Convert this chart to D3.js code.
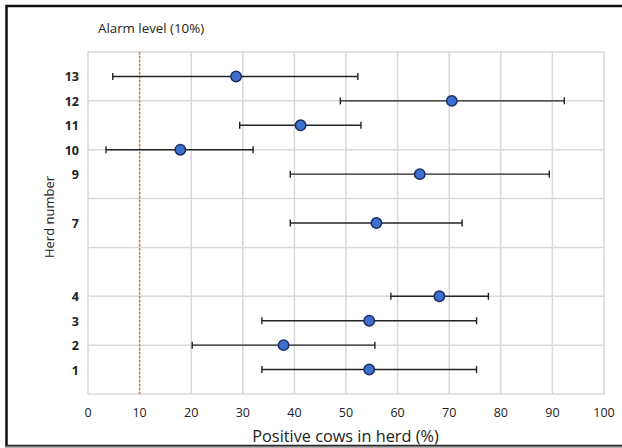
<!DOCTYPE html>
<html>
<head>
<meta charset="utf-8">
<script src="https://cdn.jsdelivr.net/npm/d3@7"></script>
<style>
  body { margin: 0; background: #fff; }
  text { font-family: "Open Sans", sans-serif; fill: #222; }
</style>
</head>
<body>
<svg id="chart"></svg>
<script>
// herd positions and estimates
var herds    = [13, 12, 11, 10, 9, 7, 4, 3, 2, 1];
var means    = [28.7, 70.5, 41.2, 17.9, 64.3, 55.9, 68.1, 54.5, 37.9, 54.5];
var lowers   = [4.8, 48.9, 29.4, 3.5, 39.2, 39.2, 58.7, 33.7, 20.2, 33.7];
var uppers   = [52.3, 92.3, 52.9, 32.0, 89.4, 72.5, 77.6, 75.3, 55.6, 75.3];
var xTicks   = [0, 10, 20, 30, 40, 50, 60, 70, 80, 90, 100];
var yGrid    = [0, 2, 4, 6, 8, 10, 12, 14];
var alarm    = 10;

var width = 622, height = 448;
var margin = {left: 88, right: 18, top: 52, bottom: 54};

var svg = d3.select("#chart").attr("width", width).attr("height", height);

// outer frame
svg.append("rect")
    .attr("x", 6.5).attr("y", 6).attr("width", 630).attr("height", 440)
    .attr("fill", "none").attr("stroke", "#111").attr("stroke-width", 2.5);
svg.append("line")
    .attr("x1", 6).attr("x2", 622).attr("y1", 446.5).attr("y2", 446.5)
    .attr("stroke", "#777").attr("stroke-width", 1.5);

var x = d3.scaleLinear().domain([0, 100]).range([margin.left, width - margin.right]);
var y = d3.scaleLinear().domain([0, 14]).range([height - margin.bottom, margin.top]);

var g = svg.append("g");

// grid
g.selectAll(".vgrid").data(xTicks).enter().append("line")
    .attr("class", "vgrid")
    .attr("x1", function(d) { return x(d); }).attr("x2", function(d) { return x(d); })
    .attr("y1", y(0)).attr("y2", y(14))
    .attr("stroke", "#d9d9d9").attr("stroke-width", 1.5);
g.selectAll(".hgrid").data(yGrid).enter().append("line")
    .attr("class", "hgrid")
    .attr("x1", x(0)).attr("x2", x(100))
    .attr("y1", function(d) { return y(d); }).attr("y2", function(d) { return y(d); })
    .attr("stroke", "#d9d9d9").attr("stroke-width", 1.5);

// x tick labels
g.selectAll(".xlab").data(xTicks).enter().append("text")
    .attr("x", function(d) { return x(d); })
    .attr("y", y(0) + 23)
    .attr("text-anchor", "middle")
    .style("font-size", "12.5px")
    .text(function(d) { return d; });

// herd labels
g.selectAll(".ylab").data(herds).enter().append("text")
    .attr("x", 79)
    .attr("y", function(d) { return y(d) + 5; })
    .attr("text-anchor", "end")
    .style("font-size", "12.5px").style("font-weight", "bold")
    .text(function(d) { return d; });

// alarm line
g.append("line")
    .attr("x1", x(alarm)).attr("x2", x(alarm))
    .attr("y1", y(14)).attr("y2", y(0))
    .attr("stroke", "#f07a2a").attr("stroke-width", 1.5)
    .attr("stroke-dasharray", "2.5,1.5");

// error bars
var rows = herds.map(function(h, i) { return {h: h, m: means[i], lo: lowers[i], hi: uppers[i]}; });
var eb = g.selectAll(".eb").data(rows).enter().append("g");
eb.append("line")
    .attr("x1", function(d) { return x(d.lo); }).attr("x2", function(d) { return x(d.hi); })
    .attr("y1", function(d) { return y(d.h); }).attr("y2", function(d) { return y(d.h); })
    .attr("stroke", "#222").attr("stroke-width", 1.4);
["lo", "hi"].forEach(function(k) {
  eb.append("line")
      .attr("x1", function(d) { return x(d[k]); }).attr("x2", function(d) { return x(d[k]); })
      .attr("y1", function(d) { return y(d.h) - 3.5; }).attr("y2", function(d) { return y(d.h) + 3.5; })
      .attr("stroke", "#222").attr("stroke-width", 1.4);
});
eb.append("circle")
    .attr("cx", function(d) { return x(d.m); })
    .attr("cy", function(d) { return y(d.h); })
    .attr("r", 5.2)
    .attr("fill", "#3e6fcf").attr("stroke", "#1a2f66").attr("stroke-width", 1.5);

// titles
svg.append("text")
    .attr("x", 98).attr("y", 33)
    .style("font-size", "13.3px")
    .text("Alarm level (10%)");
svg.append("text")
    .attr("x", (252 + 439) / 2).attr("y", 442)
    .attr("text-anchor", "middle")
    .style("font-size", "16.3px")
    .text("Positive cows in herd (%)");
svg.append("text")
    .attr("transform", "translate(54,217) rotate(-90)")
    .attr("text-anchor", "middle")
    .style("font-size", "13px")
    .text("Herd number");
</script>
</body>
</html>
